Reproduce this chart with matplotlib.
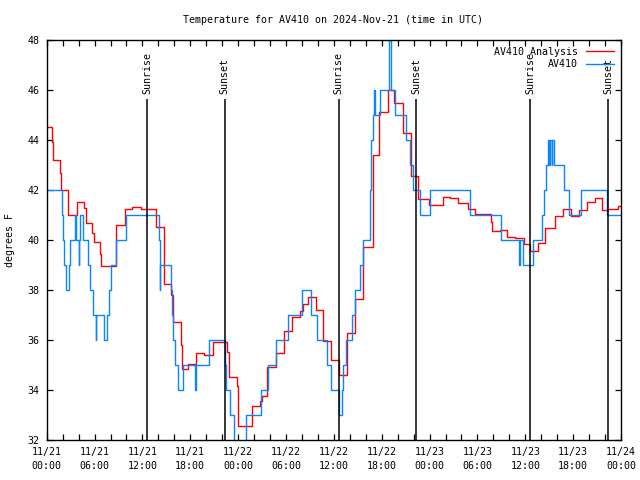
import pandas as pd
import matplotlib
matplotlib.use("Agg")
import matplotlib.pyplot as plt
import matplotlib.dates as mdates

plt.rcParams['font.family'] = 'DejaVu Sans Mono'
plt.rcParams['font.size'] = 7.2

START = pd.Timestamp("2024-11-21 00:00")
END_HOUR = 72

# hours after 11/21 00:00 UTC -> temperature (F), drawn as steps
red_hours = [0, 0.66, 0.79, 1.71, 1.84, 2.67, 3.76, 4.72, 4.93, 5.72, 5.89, 6.68,
             6.85, 8.70, 9.76, 10.68, 11.77, 13.70, 14.70, 15.6, 15.8, 16.85, 16.9,
             17.75, 18.7, 19.7, 20.8, 22.6, 22.8, 23.8, 24.0, 25.8, 26.7, 27.0,
             27.6, 28.8, 29.8, 30.8, 31.8, 32.1, 32.8, 33.7, 34.7, 35.6, 36.7,
             37.6, 38.7, 39.7, 40.85, 41.7, 42.8, 43.6, 44.7, 45.7, 46.6, 47.9,
             49.7, 50.5, 51.6, 52.8, 53.7, 55.7, 55.8, 56.8, 57.7, 58.7, 59.9,
             60.6, 61.6, 62.5, 63.7, 64.7, 65.7, 66.7, 67.7, 68.7, 69.6, 70.4, 71.6]
red_temps = [44.5, 43.9, 43.2, 42.67, 42.0, 41.0, 41.5, 41.27, 40.67, 40.29, 39.9, 39.44,
             38.97, 40.6, 41.23, 41.33, 41.25, 40.52, 38.23, 37.8, 36.7, 35.8, 34.85,
             35.03, 35.49, 35.4, 35.91, 35.5, 34.5, 34.16, 32.55, 33.35, 33.56, 33.77,
             34.9, 35.47, 36.35, 36.93, 37.16, 37.43, 37.71, 37.2, 35.97, 35.2, 34.59,
             36.29, 37.63, 39.73, 43.4, 45.1, 46.0, 45.47, 44.27, 42.58, 41.63, 41.4,
             41.71, 41.67, 41.47, 41.24, 41.03, 40.73, 40.36, 40.4, 40.13, 40.07, 39.83,
             39.56, 39.89, 40.47, 40.97, 41.23, 40.96, 41.2, 41.51, 41.67, 41.2, 41.23, 41.36]

blue_hours = [0, 1.92, 2.04, 2.17, 2.38, 2.79, 2.92, 3.5, 3.63, 4.0, 4.1, 4.17, 4.5,
              5.17, 5.47, 5.8, 6.14, 6.22, 7.18, 7.59, 7.8, 8.1, 8.64, 9.89, 14.06,
              14.15, 14.25, 15.6, 15.7, 15.85, 16.07, 16.44, 17.07, 18.6, 18.7, 20.3,
              22.33, 22.5, 23.0, 23.5, 25.0, 26.85, 27.8, 28.8, 30.3, 32.0, 33.1, 33.9,
              35.1, 35.6, 36.7, 37.0, 37.2, 37.5, 38.3, 38.7, 39.3, 39.7, 40.5, 40.6,
              40.7, 40.85, 41.0, 41.2, 41.8, 42.9, 43.2, 43.7, 45.0, 45.6, 45.9, 46.75,
              48.0, 53.1, 57.0, 59.25, 59.35, 59.7, 61.0, 62.1, 62.4, 62.6, 62.8, 63.0,
              63.1, 63.3, 63.35, 63.6, 64.9, 65.5, 67.0, 70.2]
blue_temps = [42, 41, 40, 39, 38, 39, 40, 41, 40, 39, 40, 41, 40,
              39, 38, 37, 36, 37, 36, 37, 38, 39, 40, 41, 40,
              38, 39, 38, 37, 36, 35, 34, 35, 34, 35, 36,
              35, 34, 33, 31, 33, 34, 35, 36, 37, 38, 37, 36,
              35, 34, 33, 34, 35, 36, 37, 38, 39, 40, 42, 43,
              44, 45, 46, 45, 46, 49, 46, 45, 44, 43, 42, 41,
              42, 41, 40, 39, 40, 39, 40, 41, 42, 43, 44, 43,
              44, 43, 44, 43, 42, 41, 42, 41]

sunrise_hours = [12.57, 36.6, 60.63]
sunset_hours = [22.32, 46.35, 70.38]


def to_time(hours):
    return START + pd.to_timedelta(hours, unit="h")


fig = plt.figure(figsize=(6.4, 4.8), dpi=100)
ax = fig.add_axes([46.7 / 640, 40 / 480, (621 - 46.7) / 640, 400 / 480])

ax.step(to_time(red_hours + [END_HOUR]), red_temps + [red_temps[-1]], where='post',
        color='#ff0000', lw=1.0, label='AV410 Analysis')
ax.step(to_time(blue_hours + [END_HOUR]), blue_temps + [blue_temps[-1]], where='post',
        color='#0a84ff', lw=1.0, label='AV410')

for name, hours in [('Sunrise', sunrise_hours), ('Sunset', sunset_hours)]:
    times = to_time(hours)
    ax.vlines(times, 32, 45.65, color='black', lw=1.1, zorder=3)
    for t in times:
        ax.text(t, 45.85, name, rotation=90, ha='center', va='bottom')

ax.set_xlim(to_time([0])[0], to_time([END_HOUR])[0])
ax.set_ylim(32, 48)
ax.set_yticks(range(32, 49, 2))
ax.xaxis.set_major_locator(mdates.HourLocator(byhour=range(0, 24, 6)))
ax.xaxis.set_minor_locator(mdates.HourLocator(byhour=range(0, 24, 2)))
ax.xaxis.set_major_formatter(mdates.DateFormatter('%m/%d\n%H:%M'))
ax.tick_params(which='both', direction='in', top=True, right=True, length=4,
               width=0.9, pad=5)
for s in ax.spines.values():
    s.set_linewidth(1.0)

ax.legend(loc='upper right', frameon=False, markerfirst=False, handlelength=2.8,
          handletextpad=0.8, labelspacing=0.25, borderaxespad=0.3)

fig.text(0.52, 1 - 20 / 480, 'Temperature for AV410 on 2024-Nov-21 (time in UTC)',
         ha='center', va='center')
fig.text(10 / 640, 0.5, 'degrees F', rotation=90, ha='center', va='center')

fig.canvas.draw()
for lbl in ax.get_xticklabels():
    lbl.set_linespacing(1.45)

fig.savefig('out.png', dpi=100)
